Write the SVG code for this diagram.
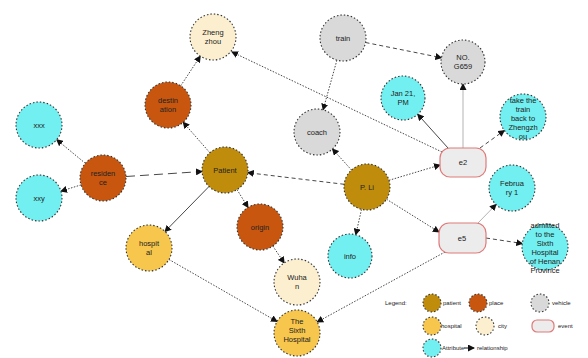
<svg xmlns="http://www.w3.org/2000/svg" width="588" height="358" viewBox="0 0 588 358">
<style>
.n{stroke:#333;stroke-width:1.1;stroke-dasharray:1.5 2}
.pat{fill:#bf8c0c}.pla{fill:#c8560f}.veh{fill:#d9d9d9}.hos{fill:#f7c64c}.cit{fill:#fcefcf}.att{fill:#72eff0}
.ev{fill:#ececec;stroke:#e07a7a;stroke-width:1.2}
text{font-family:"Liberation Sans",Arial,sans-serif;font-size:7.5px;fill:#222;text-anchor:middle}
.lg{font-size:6px;text-anchor:start}
.e{fill:none;stroke:#333;stroke-width:0.9;marker-end:url(#a)}
.dot{stroke-dasharray:1.5 1.5}
.dsh{stroke-dasharray:4 3}
.lds{stroke-dasharray:9 5}
.gr{stroke:#aaa}
</style>
<defs>
<marker id="a" markerWidth="7" markerHeight="7" refX="6" refY="3.5" orient="auto" markerUnits="userSpaceOnUse">
<path d="M0,0L7,3.5L0,7z" fill="#111"/>
</marker>
</defs>
<rect width="588" height="358" fill="#fff"/>
<g id="edges">
<line class="e dot" x1="180.7" y1="85.8" x2="200.3" y2="56.2"/>
<line class="e dot" x1="442" y1="152" x2="232" y2="52"/>
<line class="e dot" x1="209.8" y1="152.7" x2="183.2" y2="122.3"/>
<line class="e dsh" x1="365.5" y1="42.5" x2="441.4" y2="57.7"/>
<line class="e dot" x1="336.9" y1="60.2" x2="323.1" y2="109.8"/>
<line class="e gr" x1="463" y1="148" x2="463" y2="84"/>
<line class="e" x1="448" y1="148" x2="417.7" y2="114.3"/>
<line class="e dsh" x1="480" y1="148" x2="504.3" y2="130.5"/>
<line class="e dot" x1="389" y1="180.3" x2="440" y2="165"/>
<line class="e dot" x1="351.5" y1="170" x2="332.5" y2="149"/>
<line class="e dsh" x1="344.2" y1="184.3" x2="247.8" y2="172.7"/>
<line class="e dot" x1="386.5" y1="199.2" x2="439" y2="232"/>
<line class="e dot" x1="361.5" y1="209.4" x2="355.8" y2="234.6"/>
<line class="e dot" x1="445" y1="252" x2="317.2" y2="322"/>
<line class="e gr" x1="478" y1="223" x2="496" y2="204.5"/>
<line class="e dsh" x1="486" y1="238" x2="522.3" y2="243.5"/>
<line class="e lds" x1="126" y1="176.5" x2="202" y2="171.5"/>
<line class="e dot" x1="85.3" y1="163.3" x2="56.7" y2="139.7"/>
<line class="e dot" x1="81" y1="184.9" x2="61" y2="191.1"/>
<line class="e" x1="209" y1="186.5" x2="165" y2="231.5"/>
<line class="e dot" x1="237" y1="189.6" x2="248" y2="207.4"/>
<line class="e dot" x1="272.8" y1="246" x2="284.2" y2="262.9"/>
<line class="e dot" x1="169" y1="259.5" x2="277" y2="321.5"/>
</g>
<g id="zhengzhou"><circle class="n cit" cx="213" cy="37" r="23"/><text x="213" y="35">Zheng</text><text x="213" y="44">zhou</text></g>
<g id="destination"><circle class="n pla" cx="168" cy="105" r="23"/><text x="168" y="103">destin</text><text x="168" y="112">ation</text></g>
<g id="train"><circle class="n veh" cx="343" cy="38" r="23"/><text x="343" y="41">train</text></g>
<g id="g659"><circle class="n veh" cx="463" cy="62" r="22"/><text x="463" y="60">NO.</text><text x="463" y="69">G659</text></g>
<g id="jan"><circle class="n att" cx="403" cy="98" r="22"/><text x="403" y="96">Jan 21,</text><text x="403" y="105">PM</text></g>
<g id="take"><circle class="n att" cx="523" cy="117" r="23"/><text x="523" y="103">take the</text><text x="523" y="112">train</text><text x="523" y="121">back to</text><text x="523" y="130">Zhengzh</text><text x="523" y="139">ou</text></g>
<g id="coach"><circle class="n veh" cx="317" cy="132" r="23"/><text x="317" y="135">coach</text></g>
<g id="pli"><circle class="n pat" cx="367" cy="187" r="23"/><text x="367" y="190">P. Li</text></g>
<g id="patient"><circle class="n pat" cx="225" cy="170" r="23"/><text x="225" y="173">Patient</text></g>
<g id="residence"><circle class="n pla" cx="103" cy="178" r="23"/><text x="103" y="176">residen</text><text x="103" y="185">ce</text></g>
<g id="attr1"><circle class="n att" cx="39" cy="125" r="23"/><text x="39" y="128">xxx</text></g>
<g id="attr2"><circle class="n att" cx="39" cy="198" r="23"/><text x="39" y="201">xxy</text></g>
<g id="e2"><rect class="ev" x="440" y="148" width="46" height="29" rx="10"/><text x="463" y="165">e2</text></g>
<g id="e5"><rect class="ev" x="439" y="223" width="47" height="30" rx="10"/><text x="462" y="241">e5</text></g>
<g id="feb"><circle class="n att" cx="512" cy="188" r="23"/><text x="512" y="186">Februa</text><text x="512" y="195">ry 1</text></g>
<g id="admitted"><circle class="n att" cx="545" cy="247" r="23"/><text x="545" y="228">admitted</text><text x="545" y="237">to the</text><text x="545" y="246">Sixth</text><text x="545" y="255">Hospital</text><text x="545" y="264">of Henan</text><text x="545" y="273">Province</text></g>
<g id="origin"><circle class="n pla" cx="260" cy="227" r="23"/><text x="260" y="230">origin</text></g>
<g id="hospital"><circle class="n hos" cx="149" cy="248" r="23"/><text x="149" y="246">hospit</text><text x="149" y="255">al</text></g>
<g id="wuhan"><circle class="n cit" cx="297" cy="282" r="23"/><text x="297" y="280">Wuha</text><text x="297" y="289">n</text></g>
<g id="hospital2"><circle class="n hos" cx="297" cy="333" r="23"/><text x="297" y="324">The</text><text x="297" y="333">Sixth</text><text x="297" y="342">Hospital</text></g>
<g id="info"><circle class="n att" cx="350" cy="256" r="22"/><text x="350" y="259">info</text></g>
<g id="legend">
<text class="lg" x="385" y="305">Legend:</text>
<circle class="n pat" cx="432" cy="303" r="9"/><text class="lg" x="443" y="305">patient</text>
<circle class="n pla" cx="478" cy="303" r="9"/><text class="lg" x="489" y="305">place</text>
<circle class="n veh" cx="540" cy="303" r="9"/><text class="lg" x="552" y="305">vehicle</text>
<circle class="n hos" cx="432" cy="326" r="9"/><text class="lg" x="441" y="328">hospital</text>
<circle class="n cit" cx="485" cy="326" r="9"/><text class="lg" x="498" y="328">city</text>
<rect class="ev" x="532" y="320" width="22" height="12" rx="5"/><text class="lg" x="558" y="328">event</text>
<circle class="n att" cx="432" cy="348" r="9"/><text class="lg" x="442" y="350">Attribute</text>
<line x1="464" y1="348" x2="474" y2="348" stroke="#111" stroke-width="1" marker-end="url(#a)"/>
<text class="lg" x="477" y="350">relationship</text>
</g>
</svg>
